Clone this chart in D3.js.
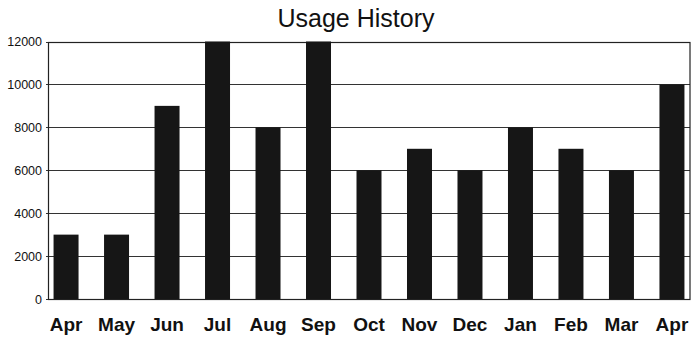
<!DOCTYPE html>
<html>
<head>
<meta charset="utf-8">
<script src="https://cdn.jsdelivr.net/npm/d3@7"></script>
<style>
  html, body { margin: 0; padding: 0; background: #fff; }
  svg { display: block; }
  text { font-family: "Liberation Sans", Arial, sans-serif; fill: #111; }
</style>
</head>
<body>
<svg id="chart" width="693" height="341"></svg>
<script>
const title = "Usage History";
const months = ["Apr", "May", "Jun", "Jul", "Aug", "Sep", "Oct", "Nov", "Dec", "Jan", "Feb", "Mar", "Apr"];
const usage = [3000, 3000, 9000, 12000, 8000, 12000, 6000, 7000, 6000, 8000, 7000, 6000, 10000];
const yTicks = [0, 2000, 4000, 6000, 8000, 10000, 12000];

const W = 693, H = 341;
const margin = { top: 41.5, right: 3, bottom: 42, left: 48 };
const svg = d3.select("#chart");

const x = d3.scaleBand()
  .domain(months.map((d, i) => i))
  .range([margin.left, W - margin.right])
  .paddingInner(0.505)
  .paddingOuter(0.11);

const y = d3.scaleLinear()
  .domain([0, 12000])
  .range([H - margin.bottom, margin.top]);

// gridlines
svg.append("g")
  .selectAll("line")
  .data(yTicks)
  .join("line")
  .attr("x1", margin.left - 2)
  .attr("x2", W - margin.right)
  .attr("y1", d => Math.round(y(d)) + 0.5)
  .attr("y2", d => Math.round(y(d)) + 0.5)
  .attr("stroke", "#333")
  .attr("stroke-width", 1.2);

// plot frame
svg.append("rect")
  .attr("x", margin.left + 0.5)
  .attr("y", Math.round(y(12000)) + 0.5)
  .attr("width", (W - margin.right) - margin.left - 0.5)
  .attr("height", Math.round(y(0)) - Math.round(y(12000)))
  .attr("fill", "none")
  .attr("stroke", "#222")
  .attr("stroke-width", 1.2);

// bars
svg.append("g")
  .selectAll("rect")
  .data(usage)
  .join("rect")
  .attr("x", (d, i) => x(i))
  .attr("width", x.bandwidth())
  .attr("y", d => y(d))
  .attr("height", d => y(0) - y(d))
  .attr("fill", "#161616");

// y axis
const yAxis = d3.axisLeft(y).tickValues(yTicks).tickSize(0).tickPadding(6).tickFormat(d3.format("d"));
const gy = svg.append("g")
  .attr("transform", `translate(${margin.left},0)`)
  .call(yAxis);
gy.select(".domain").remove();
gy.selectAll("text")
  .attr("font-size", 12.5)
  .style("font-family", "'Liberation Sans', Arial, sans-serif")
  .attr("fill", "#111");

// x axis
const xAxis = d3.axisBottom(x).tickSize(0).tickPadding(19).tickFormat(i => months[i]);
const gx = svg.append("g")
  .attr("transform", `translate(0,${y(0)})`)
  .call(xAxis);
gx.select(".domain").remove();
gx.selectAll("text")
  .attr("font-size", 19)
  .attr("font-weight", "bold")
  .style("font-family", "'Liberation Sans', Arial, sans-serif")
  .attr("fill", "#111");

// title
svg.append("text")
  .attr("x", 356)
  .attr("y", 27)
  .attr("text-anchor", "middle")
  .attr("font-size", 25)
  .text(title);
</script>
</body>
</html>
